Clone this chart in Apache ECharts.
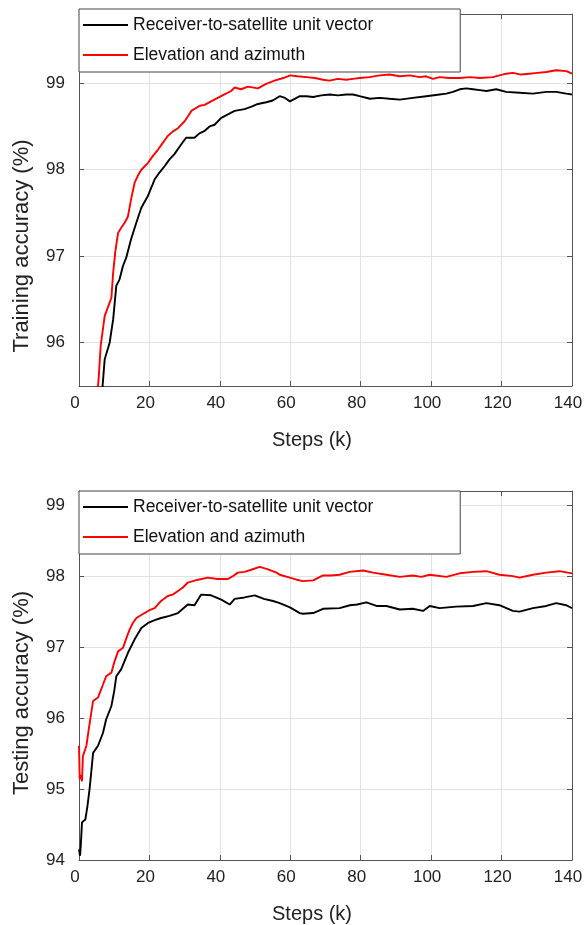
<!DOCTYPE html>
<html><head><meta charset="utf-8">
<script src="https://cdn.jsdelivr.net/npm/echarts@6/dist/echarts.min.js"></script>
<style>html,body{margin:0;padding:0;background:#fff}#c{width:586px;height:925px}</style>
</head><body><div id="c"></div>
<script>
const seriesNames = ['Receiver-to-satellite unit vector', 'Elevation and azimuth'];
const xTickValues = [0, 20, 40, 60, 80, 100, 120, 140];
const trainYTicks = [96, 97, 98, 99];
const testYTicks = [94, 95, 96, 97, 98, 99];

// Training accuracy, receiver-to-satellite unit vector (black)
const trainUnitSteps = [6.5,7.3,8.7,9.7,10.6,11.5,12.5,13.4,14.8,16.3,17.7,19.6,21.5,22.9,24.3,25.7,27.1,28.8,30.4,32.8,34.2,35.7,37.1,38.5,40.4,42.3,44.2,47.0,49.0,50.8,53.2,55.0,57.0,58.5,59.9,62.7,64.6,66.5,68.8,71.2,73.5,75.9,77.8,79.7,82.6,85.4,88.2,91.1,94.8,98.6,102.4,104.3,106.2,108.1,110.0,111.9,113.8,115.7,118.5,121.3,125.1,128.9,132.7,135.5,138.4,140];
const trainUnitAcc = [95.40,95.81,96.00,96.27,96.66,96.73,96.89,96.98,97.20,97.39,97.56,97.70,97.89,97.97,98.04,98.12,98.18,98.28,98.37,98.37,98.42,98.45,98.50,98.52,98.60,98.64,98.68,98.70,98.73,98.76,98.78,98.80,98.85,98.83,98.79,98.85,98.85,98.84,98.86,98.87,98.86,98.87,98.87,98.85,98.82,98.83,98.82,98.81,98.83,98.85,98.87,98.88,98.90,98.93,98.94,98.93,98.92,98.91,98.93,98.90,98.89,98.88,98.90,98.90,98.88,98.87];

// Training accuracy, elevation and azimuth (red)
const trainElevSteps = [5.0,5.6,6.15,6.6,7.3,8.3,9.2,9.7,10.3,11.1,12.0,13.0,13.9,14.8,15.8,16.7,17.7,19.6,21.0,22.4,23.8,25.2,26.6,28.1,30.0,31.0,31.9,34.3,35.7,37.5,39.4,41.3,43.2,44.2,46.0,48.0,50.8,53.0,55.5,58.0,60.0,62.0,64.6,67.0,69.3,71.2,73.5,75.9,77.8,79.7,82.5,85.4,88.2,91.1,94.0,96.7,98.6,100.5,102.4,105.2,108.1,111.0,113.8,117.5,119.4,121.3,123.2,125.5,127.9,130.3,132.7,135.5,138.4,140];
const trainElevAcc = [95.30,95.60,95.96,96.10,96.31,96.42,96.52,96.81,97.05,97.27,97.33,97.39,97.46,97.66,97.85,97.93,98.00,98.08,98.16,98.23,98.31,98.39,98.44,98.48,98.56,98.62,98.68,98.74,98.75,98.79,98.83,98.87,98.91,98.95,98.93,98.96,98.94,98.99,99.03,99.06,99.09,99.08,99.07,99.06,99.04,99.03,99.05,99.04,99.05,99.06,99.07,99.09,99.10,99.08,99.09,99.07,99.08,99.05,99.07,99.06,99.06,99.07,99.06,99.07,99.09,99.11,99.12,99.10,99.11,99.12,99.13,99.15,99.14,99.11];

// Testing accuracy, receiver-to-satellite unit vector (black)
const testUnitSteps = [0,0.3,0.5,0.85,1.8,2.4,3.0,3.5,4.0,5.4,6.8,7.7,9.2,10.0,10.6,12.0,13.9,15.8,17.7,19.6,21.5,23.3,25.7,28.1,30.9,32.8,34.7,37.5,40.4,42.8,44.2,47.0,49.9,52.5,55.1,57.0,59.9,62.7,63.6,66.5,69.3,74.0,76.9,79.0,81.6,84.5,87.3,91.1,94.8,97.7,99.6,102.4,107.1,111.9,115.7,119.4,123.2,125.1,128.9,132.7,135.5,138.4,140];
const testUnitAcc = [94.15,94.06,94.20,94.53,94.57,94.76,95.00,95.25,95.51,95.61,95.79,95.98,96.17,96.38,96.59,96.69,96.92,97.11,97.27,97.34,97.38,97.41,97.44,97.48,97.60,97.59,97.74,97.73,97.67,97.60,97.68,97.70,97.73,97.68,97.65,97.62,97.56,97.48,97.47,97.48,97.54,97.55,97.59,97.60,97.63,97.58,97.58,97.53,97.54,97.51,97.58,97.55,97.57,97.58,97.62,97.59,97.51,97.50,97.55,97.58,97.62,97.59,97.55];

// Testing accuracy, elevation and azimuth (red)
const testElevSteps = [0,0.2,0.5,0.85,1.1,2.1,2.8,3.5,4.0,5.4,6.1,6.8,7.7,9.2,10.1,11.1,12.5,13.4,14.4,15.3,16.3,18.6,20.0,21.5,23.3,25.2,26.6,28.1,29.5,30.9,33.8,36.6,39.4,42.3,43.7,45.1,47.0,48.9,51.3,53.5,56.1,57.0,59.9,61.8,63.6,66.5,69.3,71.5,74.0,76.9,80.7,83.5,87.3,91.1,94.8,97.2,99.6,104.3,108.1,111.9,115.7,119.4,123.2,125.1,128.9,132.7,136.5,140];
const testElevAcc = [95.61,95.14,95.20,95.11,95.46,95.61,95.85,96.08,96.24,96.29,96.38,96.47,96.59,96.64,96.80,96.94,96.99,97.12,97.25,97.34,97.41,97.48,97.52,97.55,97.65,97.72,97.74,97.79,97.84,97.91,97.95,97.98,97.96,97.96,98.00,98.05,98.06,98.09,98.13,98.10,98.05,98.02,97.98,97.95,97.93,97.94,98.01,98.01,98.02,98.06,98.08,98.05,98.02,97.99,98.01,97.99,98.02,97.99,98.04,98.06,98.07,98.02,98.00,97.98,98.02,98.05,98.07,98.04];

const FONT = "'Liberation Sans', Arial, sans-serif";
const AXIS_COLOR = '#555';
const GRID_COLOR = '#e2e2e2';

function pairs(xs, ys) { return xs.map((x, i) => [x, ys[i]]); }

function xAxes(gridIndex) {
  return [
    {
      gridIndex, type: 'value', position: 'bottom', min: 0, max: 140, interval: 20,
      axisLine: { show: true, onZero: false, lineStyle: { color: AXIS_COLOR, width: 1 } },
      axisTick: { show: true, inside: true, length: 5, lineStyle: { color: AXIS_COLOR } },
      axisLabel: { show: true, margin: 9, fontSize: 17, fontFamily: FONT, color: '#222', padding: [0, 8, 0, 0],
        customValues: xTickValues },
      splitLine: { show: true, lineStyle: { color: GRID_COLOR, width: 1 } },
      name: 'Steps (k)', nameLocation: 'middle', nameGap: 44,
      nameTextStyle: { fontSize: 20, fontFamily: FONT, color: '#222', padding: [0, 27, 0, 0] }
    },
    {
      gridIndex, type: 'value', position: 'top', min: 0, max: 140, interval: 20,
      axisLine: { show: true, onZero: false, lineStyle: { color: AXIS_COLOR, width: 1 } },
      axisTick: { show: true, inside: true, length: 5, lineStyle: { color: AXIS_COLOR } },
      axisLabel: { show: false }, splitLine: { show: false }
    }
  ];
}

function yAxes(gridIndex, min, max, ticks, name, namePadRight) {
  return [
    {
      gridIndex, type: 'value', position: 'left', min, max, splitNumber: 4, minInterval: 1, maxInterval: 1,
      axisLine: { show: true, onZero: false, lineStyle: { color: AXIS_COLOR, width: 1 } },
      axisTick: { show: true, inside: true, length: 5, lineStyle: { color: AXIS_COLOR }, customValues: ticks },
      axisLabel: { show: true, margin: 14, fontSize: 17, fontFamily: FONT, color: '#222',
        customValues: ticks, padding: [0, 0, 7, 0] },
      splitLine: { show: true, lineStyle: { color: GRID_COLOR, width: 1 } },
      name, nameLocation: 'middle', nameRotate: 90, nameGap: 46,
      nameTextStyle: { fontSize: 22, fontFamily: FONT, color: '#222', padding: [0, namePadRight, 0, 0] }
    },
    {
      gridIndex, type: 'value', position: 'right', min, max, splitNumber: 4, minInterval: 1, maxInterval: 1,
      axisLine: { show: true, onZero: false, lineStyle: { color: AXIS_COLOR, width: 1 } },
      axisTick: { show: true, inside: true, length: 5, lineStyle: { color: AXIS_COLOR }, customValues: ticks },
      axisLabel: { show: false }, splitLine: { show: false }
    }
  ];
}

function legendAt(top) {
  return {
    left: 79, top, orient: 'vertical', data: seriesNames,
    icon: 'rect', itemWidth: 45, itemHeight: 2, itemGap: 10,
    itemStyle: { borderWidth: 0 },
    padding: [6, 87, 7, 4],
    backgroundColor: '#fff', borderColor: '#444', borderWidth: 1, borderRadius: 0,
    selectedMode: false,
    textStyle: { fontSize: 17.5, fontFamily: FONT, color: '#111', lineHeight: 12, padding: [0, 0, 8, 0] }
  };
}

function lineSeries(name, color, xi, yi, data) {
  return {
    name, type: 'line', xAxisIndex: xi, yAxisIndex: yi, data,
    symbol: 'none', showSymbol: false, clip: true,
    lineStyle: { color, width: 1.9 }, itemStyle: { color },
    emphasis: { disabled: true }, animation: false
  };
}

const chart = echarts.init(document.getElementById('c'), null, { renderer: 'canvas' });
chart.setOption({
  backgroundColor: '#fff',
  animation: false,
  grid: [
    { left: 79, top: 14, width: 493, height: 372, containLabel: false },
    { left: 79, top: 491, width: 493, height: 371, containLabel: false }
  ],
  legend: [legendAt(9), legendAt(491)],
  xAxis: [...xAxes(0), ...xAxes(1)],
  yAxis: [
    ...yAxes(0, 95.5, 99.8, trainYTicks, 'Training accuracy (%)', 92),
    ...yAxes(1, 94, 99.2, testYTicks, 'Testing accuracy (%)', 35)
  ],
  series: [
    lineSeries(seriesNames[0], '#000000', 0, 0, pairs(trainUnitSteps, trainUnitAcc)),
    lineSeries(seriesNames[1], '#ff0000', 0, 0, pairs(trainElevSteps, trainElevAcc)),
    lineSeries(seriesNames[0], '#000000', 2, 2, pairs(testUnitSteps, testUnitAcc)),
    lineSeries(seriesNames[1], '#ff0000', 2, 2, pairs(testElevSteps, testElevAcc))
  ]
});
</script>
</body></html>
